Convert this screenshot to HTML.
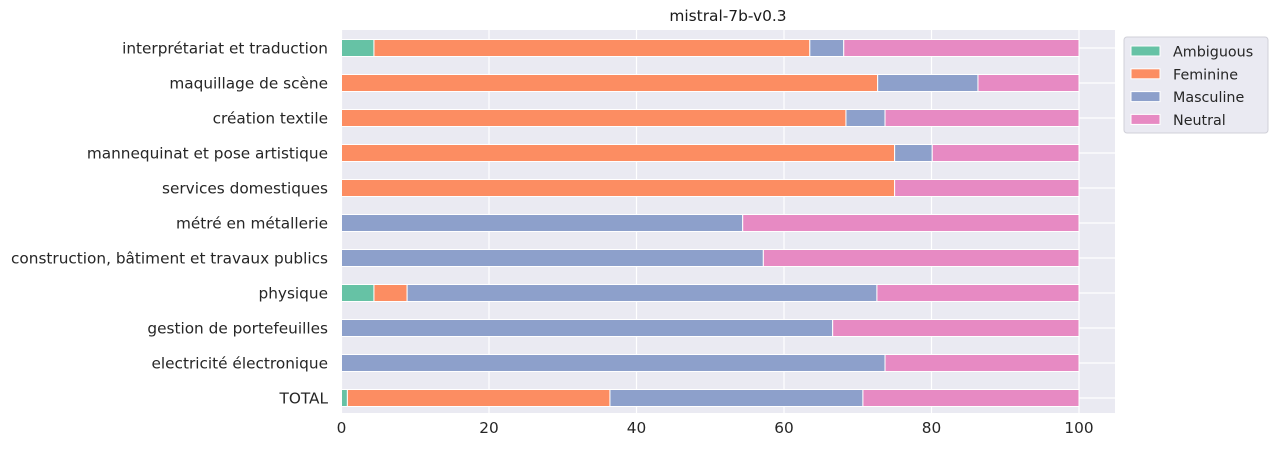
<!DOCTYPE html>
<html><head><meta charset="utf-8"><style>
html,body{margin:0;padding:0;background:#fff}
svg{display:block;font-family:"DejaVu Sans","Liberation Sans",sans-serif}
</style></head><body>
<svg id="chart" width="1274" height="453" viewBox="0 0 1274 453" xmlns="http://www.w3.org/2000/svg">
<text x="728" y="21" text-anchor="middle" font-size="15.4" fill="#1a1a1a">mistral-7b-v0.3</text>
<rect x="341" y="30" width="774" height="383" fill="#eaeaf2"/>
<g id="grid"></g>
<g id="bars"></g>
<g id="ylabels"></g>
<g id="xlabels"></g>
<g>
<rect x="1124" y="37" width="144" height="96" rx="3" fill="#eaeaf2" stroke="#d0d0d8"/>
<g id="legend-items"></g>
</g>
</svg>
<script>
const categories=["interprétariat et traduction","maquillage de scène","création textile","mannequinat et pose artistique","services domestiques","métré en métallerie","construction, bâtiment et travaux publics","physique","gestion de portefeuilles","electricité électronique","TOTAL"];
const seriesNames=["Ambiguous","Feminine","Masculine","Neutral"];
const ambiguous=[4.4,0,0,0,0,0,0,4.4,0,0,0.8];
const feminine=[59.1,72.7,68.4,75.0,75.0,0,0,4.5,0,0,35.6];
const masculine=[4.6,13.6,5.3,5.1,0,54.4,57.2,63.7,66.6,73.7,34.3];
const neutral=[31.9,13.7,26.3,19.9,25.0,45.6,42.8,27.4,33.4,26.3,29.3];
const xTicks=[0,20,40,60,80,100];
const colors=["#66c2a5","#fc8d62","#8da0cb","#e78ac3"];
const NS="http://www.w3.org/2000/svg";
const X0=341.5,XS=7.375,Y0=48,YS=35,BH=17,FS=15.3;
const xs=v=>X0+v*XS, ys=i=>Y0+i*YS;
function mk(tag,attrs,parent){const e=document.createElementNS(NS,tag);for(const k in attrs)e.setAttribute(k,attrs[k]);parent.appendChild(e);return e;}
const grid=document.getElementById('grid'),bars=document.getElementById('bars'),yl=document.getElementById('ylabels'),xl=document.getElementById('xlabels');
xTicks.forEach(t=>{
 const l=mk('line',{x1:xs(t),x2:xs(t),y1:30,y2:413,stroke:'#fff','stroke-width':1.2},grid);
 
 
 const tx=mk('text',{x:xs(t),y:433,'text-anchor':'middle','font-size':FS,fill:'#262626'},xl);
 
 
 tx.textContent=t;
});
const all=[ambiguous,feminine,masculine,neutral];
categories.forEach((c,i)=>{
 const g=mk('line',{x1:341,x2:1115,y1:ys(i),y2:ys(i),stroke:'#fff','stroke-width':1.2},grid);
 
 
 let acc=0;
 all.forEach((s,k)=>{
  const v=s[i]; if(v<=0)return;
  const r=mk('rect',{x:xs(acc),y:ys(i)-BH/2,width:v*XS,height:BH,fill:colors[k],stroke:'#fff','stroke-width':1},bars);
  
  
  acc+=v;
 });
 const t=mk('text',{x:328,y:ys(i)+5.5,'text-anchor':'end','font-size':FS,fill:'#262626'},yl);
 
 
 t.textContent=c;
});
const li=document.getElementById('legend-items');
seriesNames.forEach((n,k)=>{
 const y=51+k*22.8;
 const r=mk('rect',{x:1131,y:y-5,width:29,height:10,fill:colors[k],stroke:'#fff'},li);
 
 
 const t=mk('text',{x:1173,y:y+5.5,'font-size':14.3,fill:'#262626'},li);
 
 
 t.textContent=n;
});
</script>
</body></html>
